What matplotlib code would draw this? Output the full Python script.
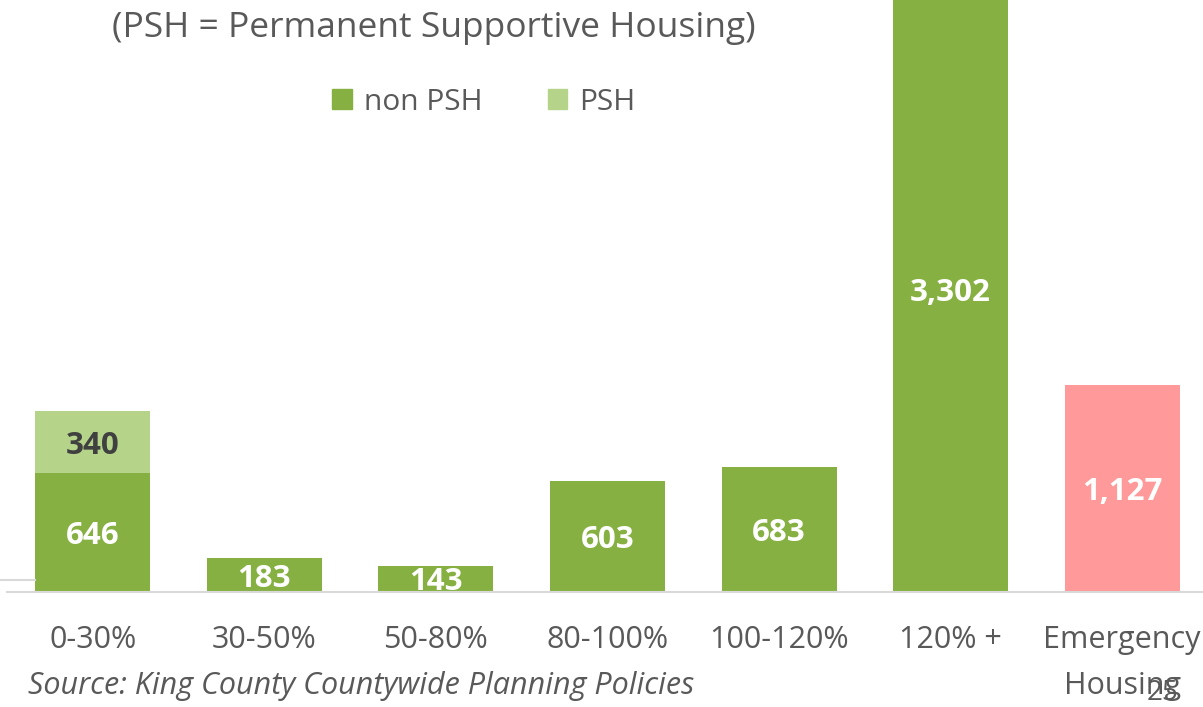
import matplotlib
matplotlib.use('Agg')
import matplotlib.pyplot as plt
from matplotlib.patches import Patch
import numpy as np

plt.rcParams['font.family'] = ['Open Sans', 'DejaVu Sans']

categories = ['0-30%', '30-50%', '50-80%', '80-100%', '100-120%', '120% +', 'Emergency\nHousing']
non_psh = [646, 183, 143, 603, 683, 3302, 0]
psh = [340, 0, 0, 0, 0, 0, 0]
emergency = [0, 0, 0, 0, 0, 0, 1127]

GREEN = '#86B142'
LIGHT = '#B5D48A'
PINK = '#FF999A'
GREY = '#595959'

fig = plt.figure(figsize=(12.03, 7.07), dpi=100)
# axes extends slightly beyond the right edge, like the slide
ax = fig.add_axes([7 / 1203, 115 / 707, 1201 / 1203, 592 / 707])

x = np.arange(len(categories))
w = 0.67
ax.bar(x, non_psh, w, color=GREEN)
ax.bar(x, psh, w, bottom=non_psh, color=LIGHT)
ax.bar(x, emergency, w, color=PINK)

ax.set_xlim(-0.5, 6.5)
ax.set_ylim(0, 592 / 0.1835)

lbl = dict(ha='center', va='center_baseline', fontsize=22.5, fontweight='bold')
for i in range(len(categories)):
    if non_psh[i]:
        ax.text(x[i], non_psh[i] / 2, f'{non_psh[i]:,}', color='white', **lbl)
    if psh[i]:
        ax.text(x[i], non_psh[i] + psh[i] / 2, f'{psh[i]:,}', color='#404040', **lbl)
    if emergency[i]:
        ax.text(x[i], emergency[i] / 2, f'{emergency[i]:,}', color='white', **lbl)

ax.set_xticks(x)
ax.set_xticklabels(categories, fontsize=22, color=GREY, linespacing=1.7)
ax.tick_params(axis='x', length=0, pad=24)
ax.set_yticks([])
for s in ['top', 'right', 'left']:
    ax.spines[s].set_visible(False)
ax.spines['bottom'].set_color('#D9D9D9')
ax.spines['bottom'].set_linewidth(1.5)

# small slide rule at far left
fig.add_artist(plt.Line2D([0, 35 / 1203], [127 / 707, 127 / 707], color='#D9D9D9', lw=1.5))

fig.text(112 / 1203, 679 / 707, '(PSH = Permanent Supportive Housing)', fontsize=25.5,
         color=GREY, va='center', ha='left')

handles = [Patch(color=GREEN, label='non PSH'), Patch(color=LIGHT, label='PSH')]
fig.legend(handles=handles, loc='center', bbox_to_anchor=(484 / 1203, 605 / 707), ncol=2,
           frameon=False, fontsize=21.5, handlelength=0.65, handleheight=0.65,
           handletextpad=0.4, columnspacing=2.2, labelcolor=GREY)

fig.text(28 / 1203, 21 / 707, 'Source: King County Countywide Planning Policies', fontsize=22,
         color=GREY, style='italic', va='center', ha='left')
fig.text(1163 / 1203, 14 / 707, '25', fontsize=20, color=GREY, va='center', ha='center')

fig.savefig('out.png', dpi=100)
